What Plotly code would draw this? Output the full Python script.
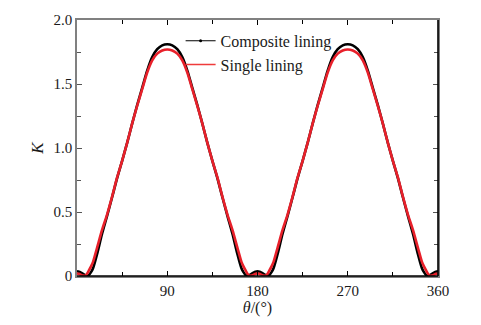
import plotly.graph_objects as go

# Angle around the lining (degrees)
theta = [
    0, 2, 4, 6, 8, 10, 12, 14, 16, 20, 25, 30, 35, 40, 45, 50, 55, 60, 65, 70, 75, 80, 85, 90,
    95, 100, 105, 110, 115, 120, 125, 130, 135, 140, 145, 150, 155, 160, 164, 166, 168, 170,
    172, 174, 176, 178, 180,
    182, 184, 186, 188, 190, 192, 194, 196, 200, 205, 210, 215, 220, 225, 230, 235, 240, 245,
    250, 255, 260, 265, 270,
    275, 280, 285, 290, 295, 300, 305, 310, 315, 320, 325, 330, 335, 340, 344, 346, 348, 350,
    352, 354, 356, 358, 360,
]

# Coefficient K, composite lining
k_composite = [
    0.037, 0.034, 0.026, 0.016, 0.007, 0.002, 0.008, 0.030, 0.060, 0.170, 0.330, 0.470, 0.615,
    0.765, 0.900, 1.040, 1.190, 1.335, 1.470, 1.605, 1.710, 1.772, 1.802, 1.810,
    1.802, 1.772, 1.710, 1.605, 1.470, 1.335, 1.190, 1.040, 0.900, 0.765, 0.615, 0.470, 0.330,
    0.170, 0.060, 0.030, 0.008, 0.002, 0.007, 0.016, 0.026, 0.034, 0.037,
    0.034, 0.026, 0.016, 0.007, 0.002, 0.008, 0.030, 0.060, 0.170, 0.330, 0.470, 0.615,
    0.765, 0.900, 1.040, 1.190, 1.335, 1.470, 1.605, 1.710, 1.772, 1.802, 1.810,
    1.802, 1.772, 1.710, 1.605, 1.470, 1.335, 1.190, 1.040, 0.900, 0.765, 0.615, 0.470, 0.330,
    0.170, 0.060, 0.030, 0.008, 0.002, 0.007, 0.016, 0.026, 0.034, 0.037,
]

# Coefficient K, single lining
k_single = [
    0.020, 0.017, 0.010, 0.004, 0.002, 0.018, 0.045, 0.075, 0.110, 0.220, 0.360, 0.480, 0.620,
    0.770, 0.900, 1.040, 1.190, 1.330, 1.460, 1.590, 1.685, 1.737, 1.762, 1.770,
    1.762, 1.737, 1.685, 1.590, 1.460, 1.330, 1.190, 1.040, 0.900, 0.770, 0.620, 0.480, 0.360,
    0.220, 0.110, 0.075, 0.045, 0.018, 0.002, 0.004, 0.010, 0.017, 0.020,
    0.017, 0.010, 0.004, 0.002, 0.018, 0.045, 0.075, 0.110, 0.220, 0.360, 0.480, 0.620,
    0.770, 0.900, 1.040, 1.190, 1.330, 1.460, 1.590, 1.685, 1.737, 1.762, 1.770,
    1.762, 1.737, 1.685, 1.590, 1.460, 1.330, 1.190, 1.040, 0.900, 0.770, 0.620, 0.480, 0.360,
    0.220, 0.110, 0.075, 0.045, 0.018, 0.002, 0.004, 0.010, 0.017, 0.020,
]

series_names = ["Composite lining", "Single lining"]
series_colors = ["#000000", "#e8202a"]

x_ticks = [90, 180, 270, 360]
y_ticks = [0, 0.5, 1.0, 1.5, 2.0]
y_labels = ["0", "0.5", "1.0", "1.5", "2.0"]

FONT = "Liberation Serif, Times New Roman, serif"

fig = go.Figure()
for name, color, values in zip(series_names, series_colors, [k_composite, k_single]):
    fig.add_trace(go.Scatter(
        x=theta, y=values, name=name, mode="lines", showlegend=False,
        line=dict(color=color, width=2.6, shape="spline", smoothing=0.8),
    ))

# Legend keys drawn as thin lines (the black one with its point marker)
fig.add_trace(go.Scatter(
    x=[None], y=[None], name=series_names[0], mode="lines+markers",
    line=dict(color=series_colors[0], width=1.2), marker=dict(size=3, color=series_colors[0]),
))
fig.add_trace(go.Scatter(
    x=[None], y=[None], name=series_names[1], mode="lines",
    line=dict(color="#ef3b3b", width=1.6),
))

fig.update_layout(
    width=481, height=325,
    margin=dict(l=77, r=43, t=13, b=45),
    paper_bgcolor="white", plot_bgcolor="white",
    font=dict(family=FONT, size=15, color="#1a1a1a"),
    showlegend=True,
    legend=dict(
        x=0.287, y=0.985, xanchor="left", yanchor="top",
        bgcolor="rgba(0,0,0,0)", font=dict(family=FONT, size=16),
        itemwidth=30, tracegroupgap=0,
    ),
    xaxis=dict(
        range=[0, 360], tickvals=x_ticks, ticks="inside", ticklen=5,
        tickcolor="#000", linecolor="#808080", linewidth=1.5, mirror="ticks",
        showgrid=False, zeroline=False,
        minor=dict(tickvals=[45, 135, 225, 315], ticks="inside", ticklen=4, tickcolor="#000"),
        title=dict(text="<i>θ</i>/(°)", standoff=3, font=dict(size=16)),
        tickfont=dict(size=15),
    ),
    yaxis=dict(
        range=[0, 2.0], tickvals=y_ticks, ticktext=y_labels, ticks="inside", ticklen=5,
        tickcolor="#555", linecolor="#808080", linewidth=1.5, mirror="ticks",
        showgrid=False, zeroline=False,
        minor=dict(tickvals=[0.25, 0.75, 1.25, 1.75], ticks="inside", ticklen=4, tickcolor="#555"),
        title=dict(text="<i>K</i>", standoff=6, font=dict(size=17)),
        tickfont=dict(size=15),
    ),
    shapes=[
        # darker bottom and right frame edges
        dict(type="line", xref="paper", yref="paper", x0=0, x1=1, y0=0, y1=0,
             line=dict(color="#000", width=1.6), layer="above"),
        dict(type="line", xref="paper", yref="paper", x0=1, x1=1, y0=0, y1=1,
             line=dict(color="#000", width=1.6), layer="above"),
    ],
)

fig.write_html("out.html")
